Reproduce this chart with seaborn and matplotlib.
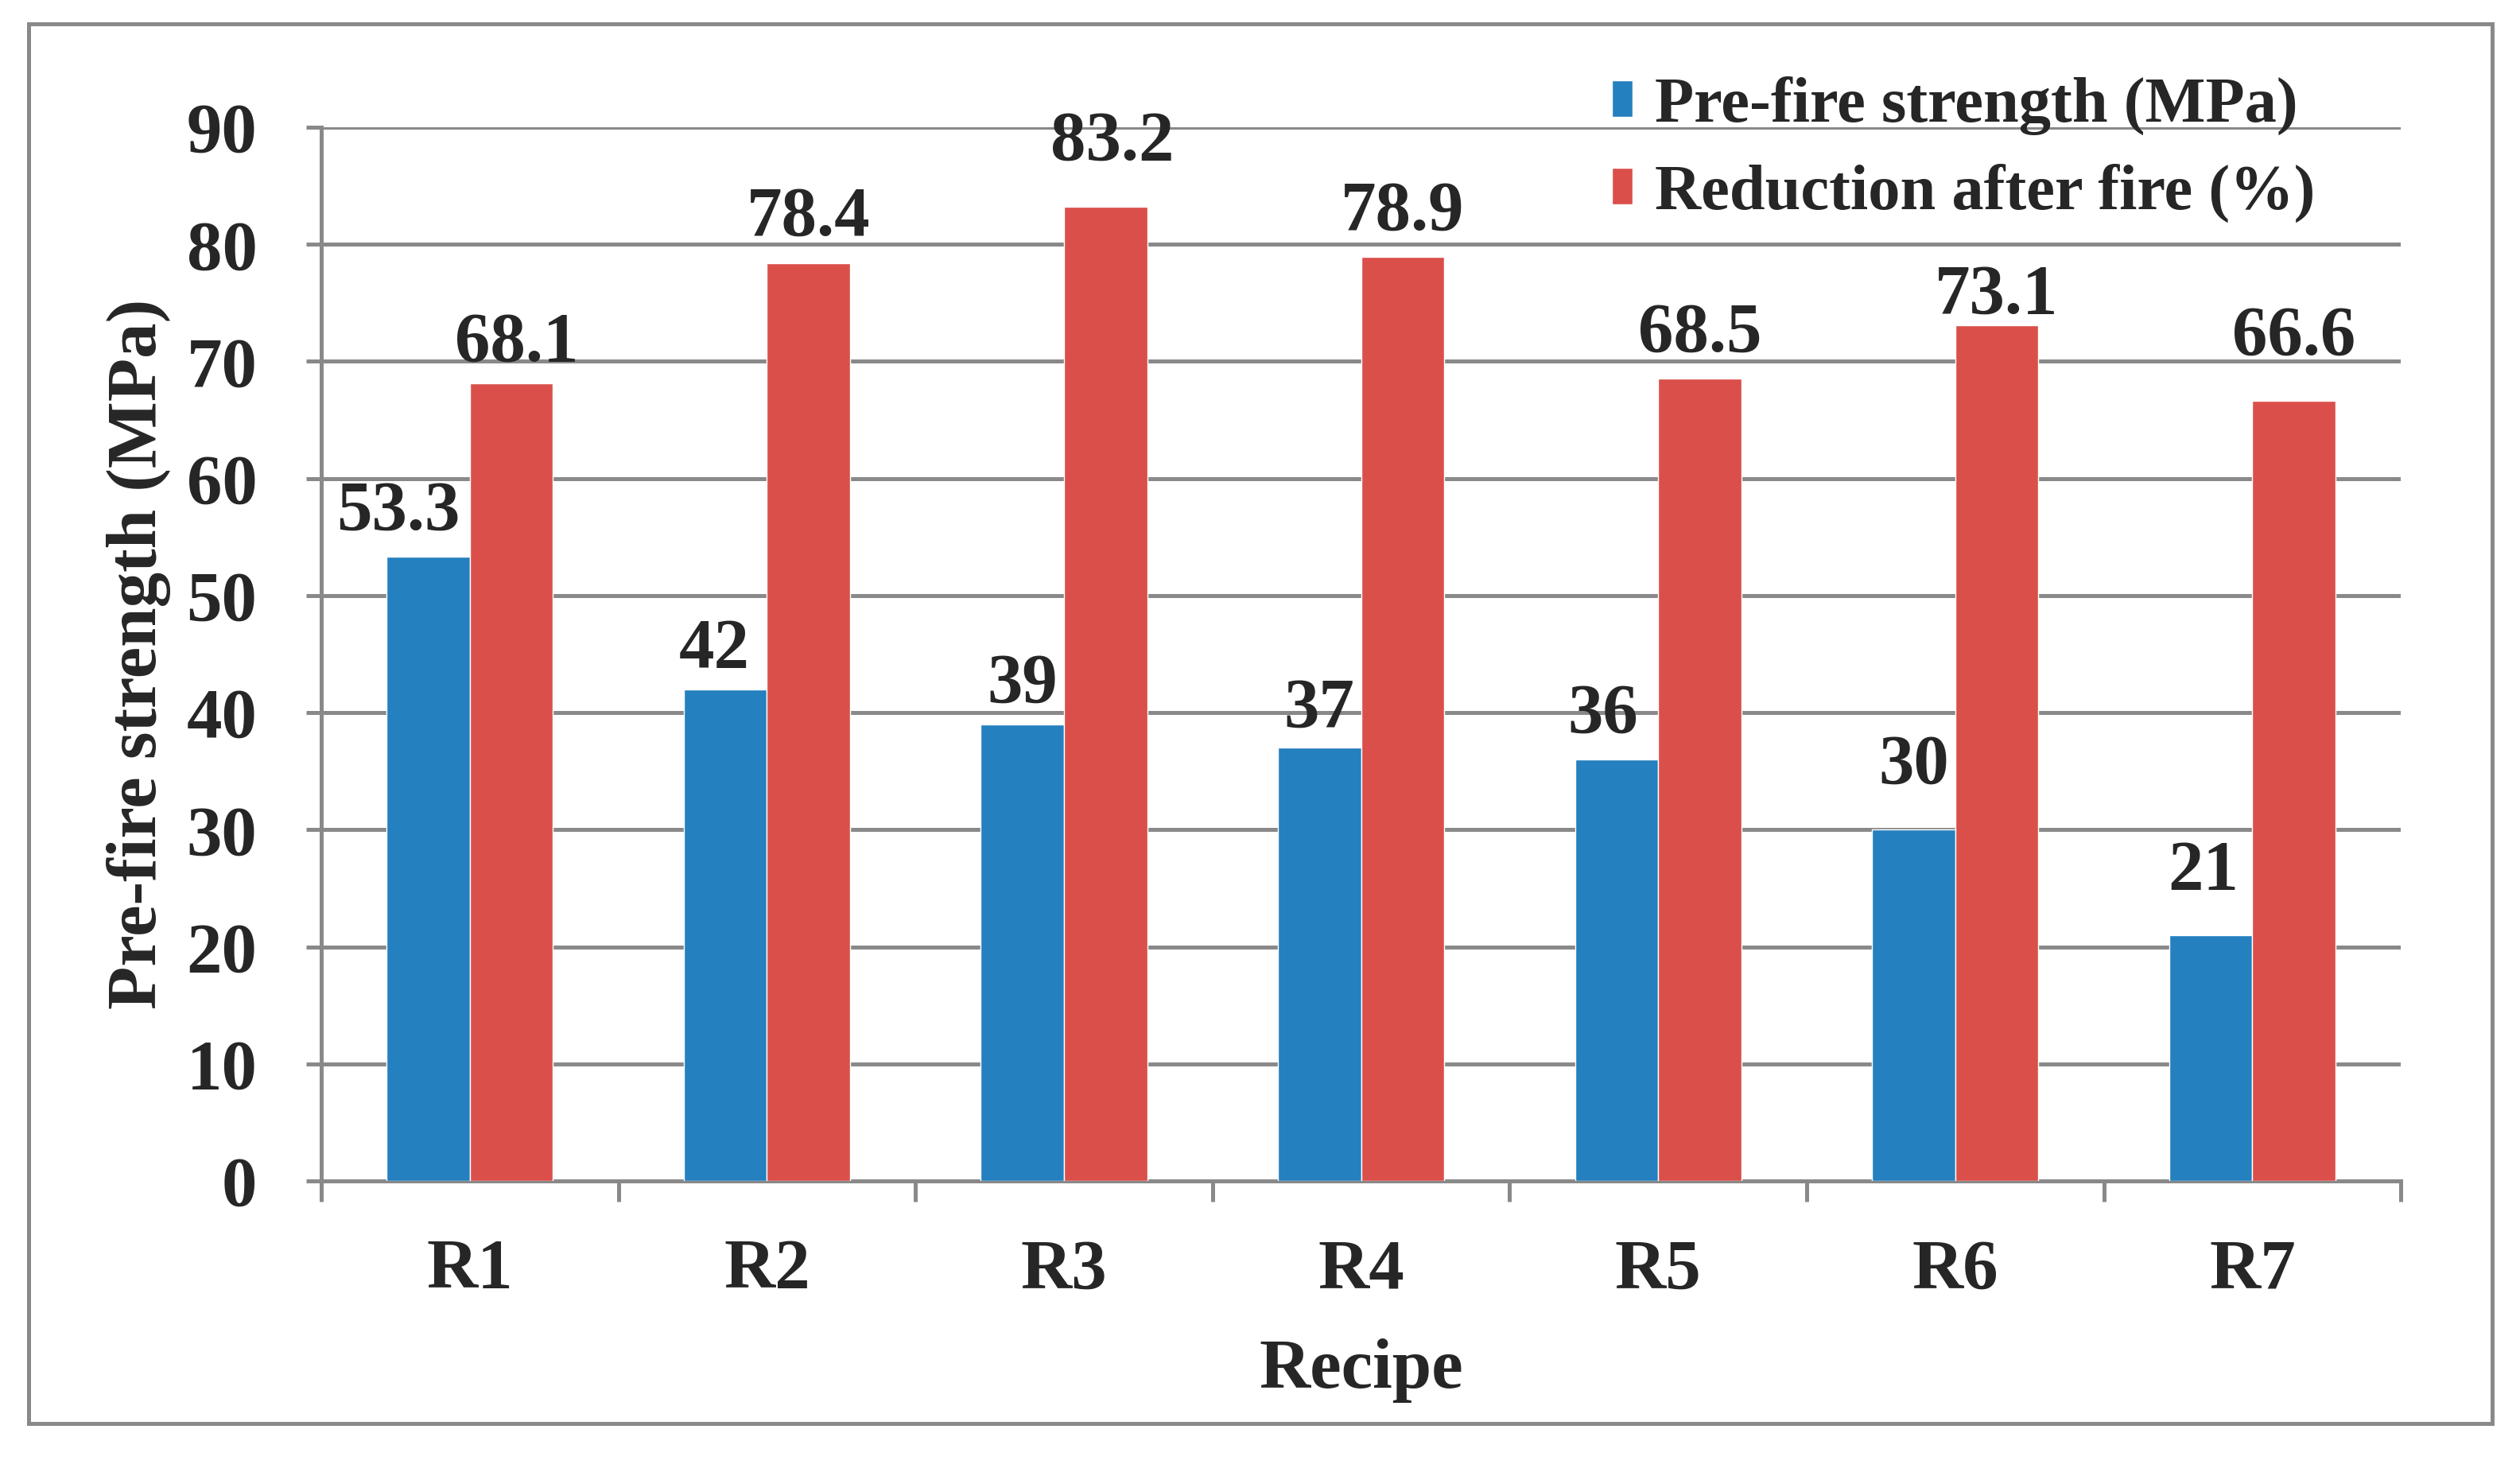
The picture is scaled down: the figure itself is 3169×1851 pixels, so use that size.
import pandas as pd
import matplotlib
matplotlib.use('Agg')
import matplotlib.pyplot as plt
import seaborn as sns
from matplotlib.patches import Rectangle

# Data
recipes = ['R1', 'R2', 'R3', 'R4', 'R5', 'R6', 'R7']
pre_fire_strength = [53.3, 42, 39, 37, 36, 30, 21]
reduction_after_fire = [68.1, 78.4, 83.2, 78.9, 68.5, 73.1, 66.6]
series_names = ['Pre-fire strength (MPa)', 'Reduction after fire (%)']
y_ticks = [0, 10, 20, 30, 40, 50, 60, 70, 80, 90]

df = pd.DataFrame({
    'Recipe': recipes * 2,
    'value': pre_fire_strength + reduction_after_fire,
    'series': [series_names[0]] * len(recipes) + [series_names[1]] * len(recipes),
})

# label placement as in the original (offsets in points: dx, gap above bar)
label_dx = [[-27, -10, 0, 0, -12, 0, -7], [5, 0, 6, 0, 0, 0, 0]]
label_gap = [[25, 20, 20, 19, 25, 42, 42], [21, 25, 43, 25, 25, 11, 42]]

sns.set_style('white')
plt.rcParams['font.family'] = ['Liberation Serif', 'DejaVu Serif']
plt.rcParams['font.weight'] = 'bold'

grid_col = '#898989'
palette = {series_names[0]: '#2480BF', series_names[1]: '#DA4F4A'}

fig = plt.figure(figsize=(31.69, 18.51), dpi=100)
ax = fig.add_axes([0.1275, 0.1977, 0.8252, 0.7159])

sns.barplot(data=df, x='Recipe', y='value', hue='series', palette=palette,
            width=0.56, saturation=1, ax=ax, zorder=3, legend=True)

ax.set_ylim(0, 90)
ax.set_xlim(-0.5, len(recipes) - 0.5)
ax.set_yticks(y_ticks)
ax.yaxis.grid(True, color=grid_col, linewidth=3.6, zorder=0)
ax.set_axisbelow(True)
for side in ['top', 'right']:
    ax.spines[side].set_visible(False)
for side in ['left', 'bottom']:
    ax.spines[side].set_color(grid_col)
    ax.spines[side].set_linewidth(3.6)

ax.tick_params(axis='y', which='major', length=14, width=3.6, color=grid_col,
               labelsize=64, pad=44, left=True)
ax.set_xticks(range(len(recipes)))
ax.set_xticks([i - 0.5 for i in range(len(recipes) + 1)], minor=True)
ax.tick_params(axis='x', which='major', length=0, labelsize=64, pad=52)
ax.tick_params(axis='x', which='minor', length=19, width=3.6, color=grid_col,
               bottom=True)
for lab in ax.get_xticklabels() + ax.get_yticklabels():
    lab.set_fontweight('bold')

ax.set_xlabel('Recipe', fontsize=64, fontweight='bold', labelpad=32)
ax.set_ylabel('Pre-fire strength (MPa)', fontsize=64, fontweight='bold', labelpad=14)

# value labels above bars
for ci, cont in enumerate(ax.containers):
    for bi, bar in enumerate(cont):
        h = bar.get_height()
        ax.annotate(f'{h:g}', (bar.get_x() + bar.get_width() / 2, h),
                    xytext=(label_dx[ci][bi], label_gap[ci][bi]),
                    textcoords='offset points', ha='center', va='baseline',
                    fontsize=64, fontweight='bold', zorder=5,
                    annotation_clip=False)

handles, labels = ax.get_legend_handles_labels()
ax.legend(handles, labels, loc='center left', bbox_to_anchor=(0.6396, 0.8985),
          bbox_transform=fig.transFigure, frameon=False,
          handlelength=0.32, handleheight=0.5, handletextpad=0.35,
          labelspacing=0.45, borderpad=0, borderaxespad=0,
          prop={'weight': 'bold', 'size': 58})

# outer chart frame
fig.patches.append(Rectangle((0.0114, 0.033), 0.9776, 0.951, transform=fig.transFigure,
                             fill=False, edgecolor=grid_col, linewidth=3.6))

fig.savefig('out.png', dpi=100)
